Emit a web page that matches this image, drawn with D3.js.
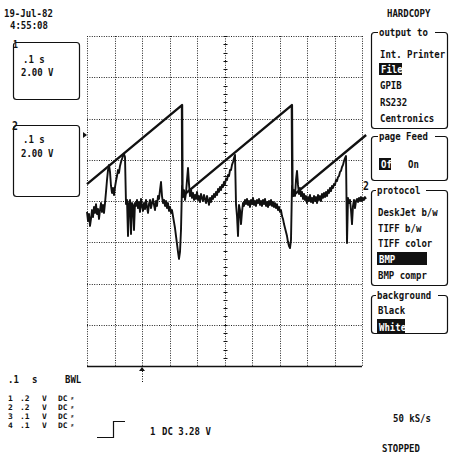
<!DOCTYPE html>
<html><head><meta charset="utf-8">
<script src="https://cdn.jsdelivr.net/npm/d3@7"></script>
<style>html,body{margin:0;padding:0;background:#fff}svg{display:block}</style>
</head><body>
<svg id="scope" width="453" height="455"></svg>
<script>
// Acquisition settings
const timePerDiv = 0.1;      // s/div
const voltsPerDiv = 2.0;     // V/div
const hDivisions = 10;
const vDivisions = 8;

// Channel 1: sawtooth, corner points [time s, volts]
const ch1Ramp = [
  [0, 0.82], [0.3455, 4.65], [0.347, 0.24],
  [0.745, 4.65], [0.747, 0.24], [1.015, 3.2]
];

// Channel 2: display record, volts per point
const ch2SampleInterval = 1 / 275; // s
const ch2Volts = [
  -0.53,-0.97,-0.63,-1.21,-0.87,-0.44,-0.78,-0.29,-0.58,-0.15,
  -0.63,-0.39,-0.87,-0.44,-0.10,-0.53,-0.19,-0.58,-0.10,0.44,
  1.02,1.50,1.75,1.41,0.73,0.39,0.63,0.29,0.68,0.97,
  1.21,1.50,1.36,1.70,1.89,2.04,2.18,2.28,2.13,-0.15,
  0.05,-1.70,-0.10,0.05,-1.60,-0.10,-0.19,-1.41,-0.10,-0.24,
  0.05,-0.34,-0.05,-0.53,0.10,-0.24,-0.48,-0.10,-0.39,0.05,
  -0.29,-0.58,-0.15,0.05,-0.34,-0.10,0.10,-0.19,-0.44,0,
  -0.24,0.24,0.10,0.53,0.92,0.24,-0.10,0.05,-0.24,0,
  -0.34,-0.10,-0.48,-0.29,-0.58,-0.44,-0.73,-1.02,-1.31,-1.70,
  -2.08,-2.47,-2.81,-2.47,-1.41,0.73,0.19,0.53,0.05,0.39,
  1.02,1.60,0.82,0.24,0.58,0.15,0.39,0.05,0.29,0.10,
  0.44,0.05,0.24,-0.05,0.34,0.15,0,0.29,0.10,-0.10,
  0.24,0.05,-0.19,0.15,-0.05,0.24,0.10,0.34,0.19,0.44,
  0.29,0.58,0.44,0.68,0.53,0.78,0.68,0.92,0.82,1.07,
  1.02,1.26,1.21,1.50,1.50,1.75,1.89,2.08,2.23,-0.15,
  -0.73,-1.70,-0.19,-0.44,-1.12,-0.53,-0.10,-0.24,0.05,-0.15,
  0.10,-0.19,0,-0.29,0.05,-0.15,0.15,-0.19,0,-0.24,
  0.05,-0.10,0.10,-0.19,0,-0.24,0.05,-0.15,0.10,-0.24,
  -0.05,-0.29,0,-0.19,0.05,-0.24,-0.05,-0.29,-0.10,-0.34,
  -0.15,-0.44,-0.29,-0.53,-0.44,-0.73,-0.87,-1.12,-1.31,-1.50,
  -1.70,-1.99,-2.18,-2.28,-1.89,0.73,0.24,0.53,0.24,1.02,
  1.46,0.78,0.34,0.63,0.24,0.44,0.10,0.34,0.05,0.24,
  -0.10,0.19,0,0.29,-0.05,0.15,-0.10,0.24,0,0.19,
  -0.10,0.29,0.05,0.24,0,0.34,0.15,0.39,0.19,0.44,
  0.24,0.53,0.39,0.63,0.48,0.73,0.63,0.82,0.78,1.02,
  0.97,1.16,1.21,1.41,1.46,1.65,1.75,1.94,2.08,2.18,
  -2.04,0.15,-0.10,0.05,-0.44,-1.12,-0.24,0.05,-0.34,0,
  0.10,-0.05,0.15,0,0.19,0,0.15,0.05,0.19,0.10
];

// Menu texts
const outputItems = ["Int. Printer", "File", "GPIB", "RS232", "Centronics"];
const protocolItems = ["DeskJet b/w", "TIFF b/w", "TIFF color", "BMP", "BMP compr"];
const backgroundItems = ["Black", "White"];
const channelRows = [
  ["1", ".2", "V", "DC"], ["2", ".2", "V", "DC"],
  ["3", ".1", "V", "DC"], ["4", ".1", "V", "DC"]
];

const svg = d3.select("#scope");
const ink = "#111";

const x = d3.scaleLinear().domain([0, hDivisions * timePerDiv]).range([87, 362]);
const y = d3.scaleLinear().domain([-vDivisions / 2 * voltsPerDiv, vDivisions / 2 * voltsPerDiv]).range([366, 36]);

// ---- graticule ----
const grid = svg.append("g").attr("stroke", "#222").attr("stroke-width", 1)
  .attr("stroke-dasharray", "1 1.4").attr("fill", "none");
const xTicks = d3.range(0, hDivisions + 1).map(i => i * timePerDiv);
const yTicks = d3.range(0, vDivisions + 1).map(i => -vDivisions / 2 * voltsPerDiv + i * voltsPerDiv);
grid.selectAll("line.v").data(xTicks).join("line").attr("class", "v")
  .attr("x1", d => Math.round(x(d)) + 0.5).attr("x2", d => Math.round(x(d)) + 0.5)
  .attr("y1", y.range()[1]).attr("y2", y.range()[0]);
grid.selectAll("line.h").data(yTicks).join("line").attr("class", "h")
  .attr("x1", x.range()[0]).attr("x2", x.range()[1])
  .attr("y1", d => Math.round(y(d)) + 0.5).attr("y2", d => Math.round(y(d)) + 0.5);
// heavier bottom edge
svg.append("line").attr("x1", x.range()[0]).attr("x2", x.range()[1])
  .attr("y1", 366.5).attr("y2", 366.5).attr("stroke", ink).attr("stroke-width", 1.3);

// minor ticks on the vertical centre axis
const xc = Math.round(x(hDivisions * timePerDiv / 2)) + 0.5;
const minorV = d3.range(0, vDivisions * 5 + 1).map(i => y.domain()[0] + i * voltsPerDiv / 5);
svg.append("g").attr("stroke", ink).attr("stroke-width", 1)
  .selectAll("line").data(minorV).join("line")
  .attr("x1", xc - 2).attr("x2", xc + 2)
  .attr("y1", d => Math.round(y(d)) + 0.5).attr("y2", d => Math.round(y(d)) + 0.5);

// trigger position marker below the graticule
const trigT = 2 * timePerDiv;
svg.append("line").attr("x1", Math.round(x(trigT)) + 0.5).attr("x2", Math.round(x(trigT)) + 0.5)
  .attr("y1", 366).attr("y2", 382).attr("stroke", ink).attr("stroke-dasharray", "1 1.5");
svg.append("path").attr("d", `M${x(trigT) - 3},371 L${x(trigT) + 3},371 L${x(trigT)},367 Z`).attr("fill", ink);

// trigger level arrow on the left
svg.append("path").attr("d", "M83,132 L87,135 L83,138 Z").attr("fill", ink);

// ---- traces ----
const line = d3.line().x(d => x(d[0])).y(d => y(d[1]));
svg.append("path").datum(ch2Volts.map((v, i) => [i * ch2SampleInterval, v]))
  .attr("d", line).attr("fill", "none").attr("stroke", ink)
  .attr("stroke-width", 1.9).attr("stroke-linejoin", "round");
svg.append("path").datum(ch1Ramp)
  .attr("d", line).attr("fill", "none").attr("stroke", ink)
  .attr("stroke-width", 2.4).attr("stroke-linejoin", "round");

// ---- text helper (tall, narrow terminal lettering) ----
function label(px, py, str, opt = {}) {
  return svg.append("text")
    .attr("transform", `translate(${px},${py}) scale(${opt.sx || 0.82},${opt.sy || 1})`)
    .attr("font-family", "DejaVu Sans Mono")
    .attr("font-weight", opt.weight || "bold")
    .attr("font-size", opt.size || 11)
    .attr("fill", opt.fill || ink)
    .text(str);
}
function box(x0, y0, x1, y1) {
  svg.append("rect").attr("x", x0 + 0.5).attr("y", y0 + 0.5)
    .attr("width", x1 - x0).attr("height", y1 - y0).attr("rx", 3)
    .attr("fill", "none").attr("stroke", ink).attr("stroke-width", 1.2);
}
function titledBox(x0, y0, x1, y1, title, tx, tw) {
  box(x0, y0, x1, y1);
  svg.append("rect").attr("x", tx - 1).attr("y", y0 - 3).attr("width", tw + 2).attr("height", 7).attr("fill", "#fff");
  label(tx, y0 + 4, title);
}
function highlight(x0, y0, w, h, str) {
  svg.append("rect").attr("x", x0).attr("y", y0).attr("width", w).attr("height", h).attr("fill", ink);
  label(x0 + 2, y0 + h - 2, str, { fill: "#fff" });
}

// date / time
label(4, 17, "19-Jul-82");
label(10, 29, "4:55:08");

// channel boxes
box(13, 42, 79, 99);
label(13, 48, "1", { size: 10 });
label(23, 63, ".1 s");
label(21, 76, "2.00 V");
box(13, 125, 79, 196);
label(12, 130, "2", { size: 12 });
label(23, 143, ".1 s");
label(21, 157, "2.00 V");

// right-hand menu
label(387, 17, "HARDCOPY");
titledBox(371, 32, 447, 128, "output to", 379, 55);
label(380, 58, outputItems[0]);
highlight(379, 63, 23, 12, outputItems[1]);
label(380, 89, outputItems[2]);
label(380, 106, outputItems[3]);
label(380, 122, outputItems[4]);

titledBox(371, 136, 447, 180, "page Feed", 379, 55);
highlight(379, 158, 12, 12, "Of");
label(408, 168, "On");

label(363, 190, "2", { size: 12 });
titledBox(371, 190, 447, 285, "protocol", 377, 48);
label(378, 216, protocolItems[0]);
label(378, 232, protocolItems[1]);
label(378, 247, protocolItems[2]);
highlight(377, 252, 50, 13, protocolItems[3]);
label(378, 279, protocolItems[4]);

titledBox(371, 295, 447, 333, "background", 377, 60);
label(378, 314, backgroundItems[0]);
highlight(377, 319, 28, 14, backgroundItems[1]);

// bottom status area
label(8, 383, ".1");
label(32, 383, "s");
label(65, 383, "BWL");
channelRows.forEach((r, i) => {
  const by = 401 + i * 9;
  const o = { size: 7.6, sx: 1.05 };
  label(8, by, r[0], o);
  label(20, by, r[1], o);
  label(42, by, r[2], o);
  label(58, by, r[3], o);
  label(71, by - 1, "\u2260", { size: 5 });
});
svg.append("path").attr("d", "M97,437.5 H113.5 V421.5 H125").attr("fill", "none")
  .attr("stroke", ink).attr("stroke-width", 1.2);
label(150, 435, "1");
label(162, 435, "DC 3.28 V");
label(393, 422, "50 kS/s");
label(382, 452, "STOPPED");
</script>
</body></html>
